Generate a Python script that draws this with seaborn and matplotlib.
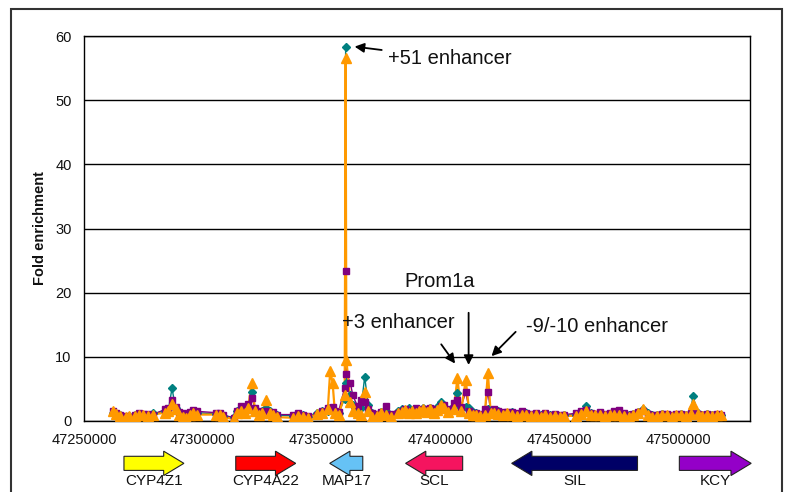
import pandas as pd
import numpy as np
import matplotlib.pyplot as plt
import seaborn as sns
from matplotlib.patches import FancyArrow, Rectangle

# genomic positions (bp) and fold enrichment for three series

positions = [
    47262000, 47263500, 47265000, 47267500, 47269000, 47271500, 47273000, 47275000, 47277000, 47279000,
    47284000, 47285500, 47287000, 47288500, 47290000, 47291500, 47293000, 47294500, 47296000, 47297500,
    47305500, 47307000, 47308500, 47313000, 47314500, 47316000, 47317500, 47319000, 47320500, 47322000,
    47323500, 47325000, 47326500, 47328000, 47329500, 47331000, 47338000, 47340000, 47342000, 47344000,
    47348000, 47350000, 47352500, 47353500, 47354500, 47355500, 47357000, 47359600, 47360000, 47360300,
    47362000, 47363000, 47365000, 47366500, 47368000, 47369500, 47371000, 47373000, 47375000, 47377000,
    47379000, 47382000, 47383500, 47385000, 47386500, 47388000, 47389500, 47391000, 47392500, 47394000,
    47395500, 47397000, 47398500, 47400000, 47401500, 47403000, 47405500, 47407000, 47408500, 47410500,
    47412000, 47413500, 47415000, 47416500, 47418500, 47419800, 47421000, 47422500, 47424000, 47426000,
    47428000, 47430000, 47432000, 47434000, 47436000, 47438000, 47440000, 47442000, 47444000, 47446000,
    47448000, 47450000, 47452000, 47457000, 47459000, 47461000, 47463000, 47465000, 47467000, 47469000,
    47471000, 47473000, 47475000, 47477000, 47479000, 47481000, 47483000, 47485000, 47487000, 47489000,
    47491000, 47493000, 47495000, 47497000, 47499000, 47501000, 47503000, 47505000, 47506000, 47508000,
    47510000, 47512000, 47514000, 47516000, 47518000,
]

teal_vals = [
    1.2, 1.0, 0.9, 0.7, 0.8, 0.9, 1.1, 0.9, 1.0, 1.2,
    1.5, 1.8, 5.1, 2.0, 1.4, 1.0, 0.8, 1.2, 1.5, 1.3,
    1.1, 1.0, 0.8, 0.6, 1.5, 2.0, 1.6, 2.2, 4.5, 1.8,
    1.4, 1.6, 2.0, 1.5, 1.2, 0.9, 0.8, 1.0, 0.9, 0.7,
    1.3, 1.5, 1.6, 2.0, 1.5, 1.4, 1.2, 3.5, 58.3, 6.0,
    4.0, 2.5, 1.8, 2.0, 6.9, 2.5, 1.2, 1.0, 1.4, 1.6,
    1.0, 1.5, 1.8, 1.6, 2.0, 1.4, 1.8, 1.5, 2.1, 1.7,
    2.0, 1.6, 2.2, 2.9, 2.0, 1.6, 2.4, 4.3, 2.0, 2.2,
    2.0, 1.4, 1.2, 1.0, 1.2, 1.8, 1.4, 1.6, 1.5, 1.3,
    1.2, 1.4, 1.1, 1.3, 1.2, 1.0, 1.1, 0.9, 1.0, 0.9,
    1.0, 0.8, 0.9, 1.0, 1.3, 2.3, 1.2, 1.0, 1.2, 1.0,
    1.1, 1.3, 1.1, 1.0, 0.9, 1.1, 1.4, 1.9, 1.3, 1.0,
    0.9, 1.1, 1.0, 0.8, 1.0, 1.1, 0.9, 1.2, 3.9, 1.3,
    1.0, 1.1, 0.9, 1.0, 0.9,
]

purple_vals = [
    1.5, 1.2, 0.9, 0.8, 0.7, 0.9, 1.2, 1.1, 1.1, 1.0,
    1.8, 2.1, 3.3, 2.2, 1.4, 1.2, 0.9, 1.4, 1.7, 1.5,
    1.3, 1.2, 0.9, 0.5, 1.6, 2.3, 1.8, 2.6, 3.6, 2.0,
    1.6, 1.4, 1.6, 1.3, 1.4, 1.0, 1.0, 1.2, 1.0, 0.8,
    1.0, 1.5, 2.0, 1.8, 2.2, 1.6, 1.4, 5.2, 23.3, 7.4,
    5.9, 4.0, 2.3, 3.2, 3.0, 1.8, 1.2, 1.1, 1.4, 2.4,
    1.1, 1.2, 1.5, 1.8, 1.5, 1.5, 2.0, 1.3, 1.8, 1.8,
    2.1, 1.6, 1.9, 2.3, 2.5, 1.8, 2.8, 3.3, 2.2, 4.5,
    1.6, 1.3, 1.3, 1.1, 1.8, 4.5, 1.6, 1.8, 1.6, 1.4,
    1.4, 1.4, 1.2, 1.6, 1.3, 1.1, 1.3, 1.0, 1.2, 0.9,
    1.1, 0.9, 1.0, 1.2, 1.5, 1.7, 1.3, 1.1, 1.4, 1.1,
    1.3, 1.5, 1.7, 1.2, 1.0, 1.1, 1.4, 1.5, 1.1, 0.9,
    0.9, 1.1, 1.1, 0.9, 1.1, 1.1, 0.9, 1.3, 1.9, 1.1,
    0.9, 1.1, 0.9, 1.1, 1.0,
]

orange_vals = [
    1.5, 1.1, 0.8, 0.6, 0.8, 0.8, 0.9, 1.0, 0.8, 1.0,
    1.3, 1.5, 2.6, 1.9, 1.0, 0.6, 0.4, 1.0, 1.2, 1.0,
    1.0, 0.9, 0.6, 0.3, 1.2, 1.5, 1.3, 2.0, 6.0, 1.5,
    1.0, 1.3, 3.3, 1.2, 1.0, 0.6, 0.5, 0.8, 0.6, 0.5,
    1.1, 1.2, 1.8, 7.8, 6.0, 1.3, 1.0, 4.0, 56.5, 9.5,
    3.0, 1.5, 1.2, 1.0, 4.5, 1.6, 0.6, 0.8, 1.2, 1.0,
    0.7, 1.3, 1.4, 1.7, 1.3, 1.6, 1.2, 1.5, 1.8, 1.4,
    1.9, 1.2, 1.7, 2.5, 2.0, 1.4, 1.9, 6.7, 1.5, 6.4,
    1.3, 0.9, 1.0, 0.8, 1.0, 7.5, 1.2, 1.3, 1.1, 1.0,
    1.2, 1.0, 0.8, 1.0, 1.0, 0.8, 0.9, 0.7, 0.9, 0.6,
    0.8, 0.6, 0.8, 0.8, 1.1, 1.5, 1.0, 0.9, 1.0, 0.8,
    0.9, 1.0, 0.9, 0.8, 0.7, 0.9, 1.2, 1.8, 1.0, 0.7,
    0.8, 0.9, 1.0, 0.7, 0.9, 1.0, 0.8, 1.1, 2.7, 1.1,
    0.8, 0.9, 0.8, 1.0, 0.9,
]

# genes under the axis: name, start, end, direction, colour

gene_names = ['CYP4Z1', 'CYP4A22', 'MAP17', 'SCL', 'SIL', 'KCY']
gene_start = [47266800, 47313800, 47353300, 47385200, 47429800, 47500300]
gene_end = [47292000, 47339000, 47367200, 47409200, 47482700, 47530500]
gene_dir = [1, 1, -1, -1, -1, 1]
gene_colors = ['#ffff00', '#ff0000', '#66c2f5', '#f5145f', '#000066', '#9400c8']

df = pd.DataFrame({'pos': positions, 'teal': teal_vals, 'purple': purple_vals, 'orange': orange_vals})

sns.set_theme(style='white')
plt.rcParams['font.family'] = ['Liberation Sans', 'DejaVu Sans']
plt.rcParams['text.color'] = '#111111'
plt.rcParams['axes.labelcolor'] = '#111111'
plt.rcParams['xtick.labelcolor'] = '#111111'
plt.rcParams['ytick.labelcolor'] = '#111111'

fig = plt.figure(figsize=(7.86, 4.92), dpi=100)
ax = fig.add_axes([84 / 786, 1 - 421 / 492, (750 - 84) / 786, (421 - 36) / 492])

# lines first (orange on top), then markers
sns.lineplot(data=df, x='pos', y='teal', color='#008080', linewidth=1.0, estimator=None, ax=ax)
sns.lineplot(data=df, x='pos', y='purple', color='#800080', linewidth=1.0, estimator=None, ax=ax)
sns.lineplot(data=df, x='pos', y='orange', color='#ff9900', linewidth=1.6, estimator=None, ax=ax)
ax.plot(df['pos'], df['teal'], linestyle='none', marker='D', markersize=4.5, color='#008080', zorder=3)
ax.plot(df['pos'], df['purple'], linestyle='none', marker='s', markersize=5, color='#800080', zorder=4)
ax.plot(df['pos'], df['orange'], linestyle='none', marker='^', markersize=7, color='#ff9900', zorder=5)

ax.set_xlim(47250000, 47530000)
ax.set_ylim(0, 60)
ax.set_xticks([47250000, 47300000, 47350000, 47400000, 47450000, 47500000])
ax.set_xticklabels(['47250000', '47300000', '47350000', '47400000', '47450000', '47500000'])
ax.set_yticks([0, 10, 20, 30, 40, 50, 60])
ax.tick_params(axis='both', direction='out', length=5, width=1, color='black', labelsize=10.5, pad=4)
ax.yaxis.grid(True, color='black', linewidth=1)
ax.set_axisbelow(True)
for s in ax.spines.values():
    s.set_color('black')
    s.set_linewidth(1)
ax.set_xlabel('')
ax.set_ylabel('Fold enrichment', fontsize=10.5, fontweight='bold', labelpad=6)

# annotations

arrow_kw = dict(arrowstyle='-|>', color='black', lw=1.3, mutation_scale=14)
ax.annotate('+51 enhancer', xy=(47362600, 58.4), xytext=(47377700, 56.5), ha='left', va='center',
            fontsize=14.5, arrowprops=arrow_kw)
ax.text(47399500, 21.8, 'Prom1a', ha='center', va='center', fontsize=14.5)
ax.annotate('', xy=(47411700, 8.3), xytext=(47411700, 17.3), arrowprops=arrow_kw)
ax.text(47382000, 15.3, '+3 enhancer', ha='center', va='center', fontsize=14.5)
ax.annotate('', xy=(47406700, 8.6), xytext=(47399500, 12.3), arrowprops=arrow_kw)
ax.text(47465500, 14.8, '-9/-10 enhancer', ha='center', va='center', fontsize=14.5)
ax.annotate('', xy=(47420500, 9.8), xytext=(47432300, 14.2), arrowprops=arrow_kw)

# gene arrows below the x axis

for name, g0, g1, d, c in zip(gene_names, gene_start, gene_end, gene_dir, gene_colors):
    length = g1 - g0
    x0 = g0 if d > 0 else g1
    arr = FancyArrow(x0, -6.6, d * length, 0, width=2.2, head_width=3.8, head_length=8500,
                     length_includes_head=True, facecolor=c, edgecolor='#222222', linewidth=0.8,
                     transform=ax.transData, clip_on=False)
    ax.add_patch(arr)
    ax.text((g0 + g1) / 2, -9.4, name, ha='center', va='center', fontsize=11, clip_on=False)

# outer frame
fig.patches.append(Rectangle((11 / 786, -0.05), (782 - 11) / 786, 1.05 - 9 / 492, transform=fig.transFigure,
                             fill=False, edgecolor='#333333', linewidth=1.5))

plt.savefig('out.png', dpi=100)
